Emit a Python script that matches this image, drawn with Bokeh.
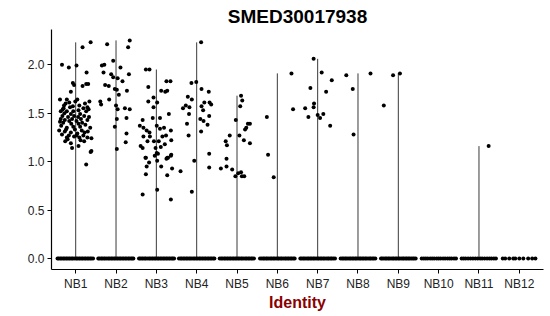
from bokeh.plotting import figure
from bokeh.models import Range1d, FixedTicker, ColumnDataSource
from bokeh.embed import file_html
from bokeh.resources import INLINE

title = "SMED30017938"
x_title = "Identity"
categories = ["NB1", "NB2", "NB3", "NB4", "NB5", "NB6", "NB7", "NB8", "NB9", "NB10", "NB11", "NB12"]
y_ticks = [0.0, 0.5, 1.0, 1.5, 2.0]

# expressing cells: (jitter offset, expression)
NB1_pts = [(0.37, 2.23), (0.17, 2.18), (-0.34, 2.00), (-0.17, 1.97), (0.02, 1.99), (0.27, 1.92),
           (-0.07, 1.81), (-0.04, 1.79), (0.17, 1.78), (0.26, 1.80), (0.31, 1.80), (-0.12, 1.72),
           (-0.39, 1.64), (-0.22, 1.64), (0.04, 1.64), (-0.01, 1.62), (-0.16, 1.61), (0.34, 1.62),
           (0.29, 1.56), (0.09, 1.58), (-0.07, 1.57), (-0.29, 1.58), (-0.37, 1.52), (-0.32, 1.54),
           (-0.22, 1.52), (-0.12, 1.49), (-0.04, 1.47), (0.11, 1.49), (0.26, 1.52), (0.32, 1.54),
           (-0.39, 1.41), (-0.27, 1.43), (-0.16, 1.42), (0.02, 1.42), (0.16, 1.40), (0.29, 1.43),
           (-0.36, 1.37), (-0.22, 1.35), (-0.06, 1.36), (0.11, 1.36), (0.36, 1.35), (-0.41, 1.32),
           (-0.27, 1.31), (-0.12, 1.30), (0.04, 1.29), (0.22, 1.30), (-0.22, 1.25), (-0.04, 1.26),
           (0.09, 1.25), (0.29, 1.25), (0.39, 1.24), (-0.26, 1.21), (-0.12, 1.19), (-0.09, 1.14),
           (0.07, 1.16), (0.21, 1.21), (0.39, 1.11), (0.26, 0.97), (0.37, 1.10),
           (-0.33, 1.47), (-0.28, 1.50), (-0.19, 1.46), (-0.09, 1.44), (0.06, 1.46), (0.13, 1.44),
           (0.21, 1.47), (0.33, 1.46), (-0.37, 1.44), (-0.31, 1.40), (-0.11, 1.39), (0.07, 1.39),
           (0.24, 1.38), (-0.24, 1.33), (-0.02, 1.33), (0.15, 1.32), (0.30, 1.31), (-0.34, 1.28),
           (-0.17, 1.27), (0.02, 1.27), (0.19, 1.27), (-0.30, 1.55), (-0.14, 1.56), (0.19, 1.55),
           (-0.25, 1.60), (0.23, 1.60), (-0.06, 1.52), (0.07, 1.53), (-0.20, 1.23), (0.12, 1.22)]
NB2_pts = [(0.34, 2.25), (-0.22, 2.21), (0.30, 2.18), (-0.35, 1.99), (-0.29, 2.00), (-0.07, 2.04),
           (0.11, 1.97), (0.32, 1.90), (-0.31, 1.92), (-0.12, 1.90), (-0.07, 1.87), (0.04, 1.86),
           (0.16, 1.83), (-0.27, 1.79), (-0.18, 1.78), (-0.03, 1.75), (0.02, 1.74), (0.27, 1.73),
           (0.07, 1.69), (-0.17, 1.64), (-0.39, 1.62), (-0.37, 1.59), (0.00, 1.58), (0.04, 1.54),
           (0.22, 1.55), (0.34, 1.54), (0.02, 1.44), (0.26, 1.45), (-0.03, 1.36), (0.26, 1.29),
           (0.24, 1.20), (0.02, 1.13)]
NB3_pts = [(-0.26, 1.95), (-0.17, 1.95), (0.25, 1.83), (0.35, 1.83), (-0.20, 1.77), (0.12, 1.73),
           (0.22, 1.72), (0.27, 1.73), (-0.07, 1.66), (-0.20, 1.62), (0.02, 1.61), (-0.07, 1.56),
           (0.31, 1.49), (-0.34, 1.43), (-0.09, 1.45), (0.09, 1.45), (-0.41, 1.37), (-0.32, 1.35),
           (-0.24, 1.32), (-0.17, 1.30), (0.01, 1.37), (0.09, 1.34), (0.19, 1.35), (0.36, 1.32),
           (-0.32, 1.26), (-0.16, 1.26), (0.15, 1.26), (0.24, 1.27), (-0.22, 1.21), (-0.06, 1.21),
           (0.06, 1.21), (0.37, 1.22), (-0.39, 1.16), (-0.34, 1.14), (-0.02, 1.14), (0.11, 1.15),
           (0.21, 1.18), (-0.26, 1.04), (0.01, 1.09), (0.04, 1.08), (0.27, 1.04), (0.36, 1.06),
           (-0.34, 0.66), (-0.26, 0.87), (-0.24, 0.95), (-0.18, 0.99), (-0.27, 1.04), (-0.04, 1.06),
           (0.02, 1.01), (0.02, 0.71), (0.12, 0.95), (0.27, 0.86), (0.25, 1.03), (0.29, 1.04),
           (0.39, 0.93), (0.36, 0.61), (0.37, 1.07)]
NB4_pts = [(0.11, 2.23), (-0.13, 1.81), (-0.01, 1.82), (0.12, 1.75), (0.30, 1.72), (-0.22, 1.67),
           (-0.12, 1.64), (-0.34, 1.55), (-0.27, 1.58), (-0.18, 1.56), (0.12, 1.57), (0.19, 1.61),
           (0.32, 1.61), (0.36, 1.59), (-0.19, 1.49), (0.16, 1.53), (0.31, 1.47), (0.09, 1.44),
           (0.17, 1.42), (-0.24, 1.39), (0.27, 1.38), (0.11, 1.31), (-0.20, 1.27), (0.31, 1.08),
           (-0.06, 1.01), (-0.12, 0.69), (0.31, 0.94), (-0.40, 0.90)]
NB5_pts = [(0.10, 1.68), (0.13, 1.63), (0.08, 1.57), (-0.03, 1.43), (-0.18, 1.27), (-0.28, 1.21),
           (-0.25, 1.17), (0.23, 1.35), (0.27, 1.39), (0.32, 1.39), (0.20, 1.33), (0.06, 1.27),
           (0.17, 1.22), (0.32, 1.19), (-0.26, 1.03), (-0.40, 0.93), (-0.26, 0.95), (-0.12, 0.92),
           (-0.04, 0.85), (0.03, 0.88), (0.10, 0.89), (0.12, 0.85), (0.18, 0.85)]
NB6_pts = [(-0.26, 1.46), (-0.23, 1.07), (-0.09, 0.84), (0.35, 1.91), (0.39, 1.54)]
NB7_pts = [(-0.10, 2.06), (0.10, 1.92), (0.35, 1.84), (-0.18, 1.76), (0.21, 1.72), (-0.09, 1.60),
           (-0.10, 1.56), (-0.31, 1.55), (-0.23, 1.46), (0.00, 1.48), (0.06, 1.45), (0.14, 1.49),
           (0.31, 1.37)]
NB8_pts = [(-0.29, 1.89), (-0.13, 1.75), (-0.11, 1.28), (0.31, 1.91)]
NB9_pts = [(-0.36, 1.58), (-0.13, 1.89), (0.04, 1.91)]
NB10_pts = []
NB11_pts = [(0.24, 1.16)]
NB12_pts = []

# non-expressing cells (value 0): jitter offsets
NB1_zero = [-0.45, -0.42, -0.38, -0.35, -0.31, -0.28, -0.24, -0.21, -0.17, -0.14, -0.10, -0.07, -0.03,
            0.01, 0.04, 0.08, 0.11, 0.15, 0.18, 0.22, 0.25, 0.29, 0.32, 0.36, 0.39, 0.43]
NB2_zero = [-0.44, -0.41, -0.37, -0.34, -0.30, -0.27, -0.23, -0.19, -0.16, -0.12, -0.09, -0.05, -0.02,
            0.02, 0.05, 0.09, 0.12, 0.16, 0.19, 0.23, 0.26, 0.30, 0.33, 0.37, 0.40, 0.43]
NB3_zero = [-0.43, -0.40, -0.36, -0.33, -0.29, -0.26, -0.22, -0.18, -0.15, -0.11, -0.08, -0.04, -0.01,
            0.03, 0.06, 0.10, 0.13, 0.17, 0.20, 0.24, 0.27, 0.31, 0.34, 0.38, 0.41, 0.44]
NB4_zero = [-0.44, -0.40, -0.37, -0.33, -0.30, -0.26, -0.23, -0.19, -0.16, -0.12, -0.08, -0.05, -0.01,
            0.02, 0.06, 0.09, 0.13, 0.16, 0.20, 0.23, 0.27, 0.30, 0.34, 0.37, 0.41, 0.44]
NB5_zero = [-0.43, -0.39, -0.36, -0.32, -0.29, -0.25, -0.22, -0.18, -0.15, -0.11, -0.08, -0.04, -0.01,
            0.03, 0.06, 0.10, 0.13, 0.17, 0.21, 0.24, 0.28, 0.31, 0.35, 0.38, 0.42]
NB6_zero = [-0.43, -0.39, -0.35, -0.32, -0.28, -0.25, -0.21, -0.17, -0.14, -0.10, -0.07, -0.03, 0.01,
            0.04, 0.08, 0.11, 0.15, 0.19, 0.22, 0.26, 0.29, 0.33, 0.36, 0.40, 0.43]
NB7_zero = [-0.43, -0.40, -0.36, -0.33, -0.29, -0.25, -0.22, -0.18, -0.15, -0.11, -0.08, -0.04, 0.00,
            0.03, 0.07, 0.10, 0.14, 0.17, 0.21, 0.25, 0.28, 0.32, 0.35, 0.39, 0.43]
NB8_zero = [-0.43, -0.39, -0.36, -0.32, -0.29, -0.25, -0.21, -0.18, -0.14, -0.11, -0.07, -0.04, 0.00,
            0.04, 0.07, 0.11, 0.14, 0.18, 0.21, 0.25, 0.29, 0.32, 0.36, 0.39, 0.43]
NB9_zero = [-0.43, -0.40, -0.36, -0.32, -0.29, -0.25, -0.22, -0.18, -0.14, -0.11, -0.07, -0.04, 0.00,
            0.03, 0.07, 0.11, 0.14, 0.18, 0.21, 0.25, 0.28, 0.32, 0.36, 0.39, 0.43]
NB10_zero = [-0.42, -0.37, -0.32, -0.27, -0.21, -0.16, -0.11, -0.05, 0.00, 0.05, 0.11, 0.16, 0.22,
             0.27, 0.32, 0.38, 0.43]
NB11_zero = [-0.43, -0.38, -0.33, -0.27, -0.21, -0.15, -0.09, -0.03, 0.03, 0.08, 0.14, 0.20, 0.26,
             0.31, 0.37, 0.42]
NB12_zero = [-0.41, -0.35, -0.25, -0.15, -0.10, 0.00, 0.10, 0.22, 0.32, 0.40]

points = [NB1_pts, NB2_pts, NB3_pts, NB4_pts, NB5_pts, NB6_pts, NB7_pts, NB8_pts, NB9_pts,
          NB10_pts, NB11_pts, NB12_pts]
zeros = [NB1_zero, NB2_zero, NB3_zero, NB4_zero, NB5_zero, NB6_zero, NB7_zero, NB8_zero, NB9_zero,
         NB10_zero, NB11_zero, NB12_zero]

FONT = "Liberation Sans"

px, py = [], []
seg_x, seg_top = [], []
for i, cat in enumerate(categories):
    pos = i + 1
    for off in zeros[i]:
        px.append(pos + off)
        py.append(0.0)
    for off, v in points[i]:
        px.append(pos + off)
        py.append(v)
    top = max([v for _, v in points[i]] + [0.0])
    if top > 0:
        seg_x.append(pos)
        seg_top.append(top)

p = figure(width=550, height=316, output_backend="svg", toolbar_location=None,
           x_range=Range1d(0.4, 12.6), y_range=Range1d(-0.1125, 2.3625),
           min_border_left=51, min_border_right=7, min_border_top=28, min_border_bottom=47)
p.background_fill_color = "white"
p.border_fill_color = "white"
p.outline_line_color = None
p.xgrid.visible = False
p.ygrid.visible = False

p.title.text = title
p.title.align = "center"
p.title.text_font = FONT
p.title.text_font_size = "19px"
p.title.text_font_style = "bold"
p.title.text_color = "black"
p.title.standoff = 6

p.segment(x0=seg_x, y0=[0.0] * len(seg_x), x1=seg_x, y1=seg_top, line_color="#3a3a3a", line_width=1)
src = ColumnDataSource(dict(x=px, y=py))
p.scatter("x", "y", source=src, size=4, fill_color="black", line_color=None)

xa = p.xaxis[0]
xa.ticker = FixedTicker(ticks=list(range(1, len(categories) + 1)))
xa.major_label_overrides = {i + 1: c for i, c in enumerate(categories)}
xa.axis_label = x_title
xa.axis_label_text_font = FONT
xa.axis_label_text_font_size = "16px"
xa.axis_label_text_font_style = "bold"
xa.axis_label_text_color = "#8B0000"
xa.axis_label_standoff = 0

ya = p.yaxis[0]
ya.ticker = FixedTicker(ticks=y_ticks)
ya.major_label_overrides = {t: f"{t:.1f}" for t in y_ticks}

for ax in (xa, ya):
    ax.axis_line_color = "black"
    ax.axis_line_width = 1.2
    ax.major_tick_line_color = "black"
    ax.major_tick_line_width = 1
    ax.major_tick_out = 4
    ax.major_tick_in = 0
    ax.minor_tick_line_color = None
    ax.major_label_text_font = FONT
    ax.major_label_text_font_size = "12px"
    ax.major_label_text_color = "#222222"
    ax.major_label_standoff = 3

open("out.html", "w").write(file_html(p, INLINE))
